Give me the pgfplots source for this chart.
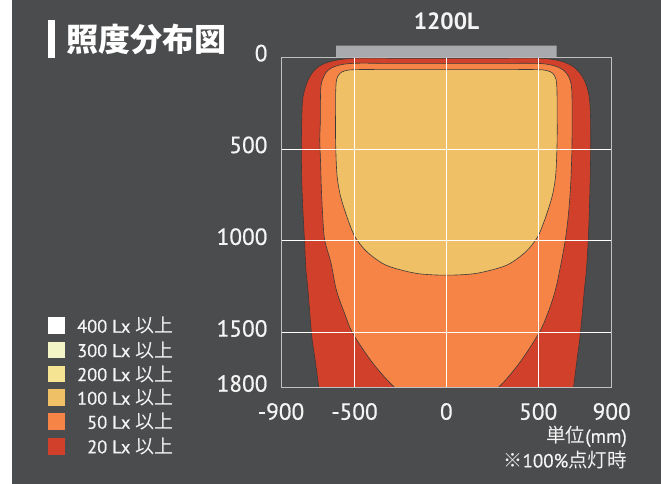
\documentclass[border=0pt]{standalone}
\usepackage{fontspec}
\setmainfont{PT Sans}
\newfontfamily\semib{PT Sans}[FakeBold=0.6]
\newfontfamily\jp{Noto Sans CJK JP}
\usepackage{pgfplots}
\pgfplotsset{compat=1.18}
\definecolor{bg}{HTML}{4B4C4E}
\definecolor{c400}{HTML}{FFFFFF}
\definecolor{c300}{HTML}{F3F5C6}
\definecolor{c200}{HTML}{F5E593}
\definecolor{c100}{HTML}{F0C066}
\definecolor{c50}{HTML}{F58446}
\definecolor{c20}{HTML}{D1402A}
\definecolor{outl}{HTML}{3A3A3A}
\definecolor{lamp}{HTML}{A9AAAD}
\definecolor{frame}{HTML}{C0C0C0}
\definecolor{txt}{HTML}{F4F4F4}
\begin{document}
\begin{tikzpicture}[x=1pt,y=1pt]
\fill[white] (0,0) rectangle (661,484);
\fill[bg] (12,0) rectangle (661,484);
% title
\fill[white] (48,426) rectangle (55,464);
\node[anchor=west,text=white,inner sep=0,font=\jp\bfseries\fontsize{32}{36}\selectfont] at (66,445) {照度分布図};
\node[text=txt,font=\bfseries\fontsize{23.5}{26}\selectfont] at (446.5,462.3) {1200L};
\node[anchor=east,text=txt,inner sep=0,font=\semib\fontsize{19}{22}\selectfont] at (627,47.3) {{\jp\fontsize{19.5}{22}\selectfont 単位}(mm)};
\node[anchor=east,text=txt,inner sep=0,font=\semib\fontsize{19}{22}\selectfont] at (627,24) {{\jp ※}100\%{\jp\fontsize{19.5}{22}\selectfont 点灯時}};
% legend
\foreach \c/\t/\y in {c400/400/158.3,c300/300/134,c200/200/110,c100/100/86.3,c50/50/62.3,c20/20/37.7}{
  \fill[\c] (48.3,\y-8.35) rectangle (65,\y+8.35);
  \node[anchor=east,text=txt,inner sep=0,font=\semib\fontsize{18.4}{21}\selectfont] at (173.5,\y) {\t\ Lx {\jp\fontsize{19}{21}\selectfont 以上}};
}
\begin{axis}[
  scale only axis, width=330.7pt, height=330.4pt,
  at={(281pt,96.3pt)}, anchor=south west,
  xmin=-900, xmax=900, ymin=0, ymax=1800, y dir=reverse,
  xtick={-900,-500,0,500,900}, ytick={0,500,1000,1500,1800},
  xticklabels={-900,-500,0,500,900}, yticklabels={0,500,1000,1500,1800},
  grid=major, major grid style={white, line width=1pt},
  axis line style={draw=frame, line width=1pt},
  major tick length=0pt, tick style={draw=none},
  axis on top,
  xticklabel style={anchor=base, yshift=-32pt, text=txt, font=\semib\fontsize{23.3}{26}\selectfont},
  yticklabel style={anchor=base east, xshift=-10pt, yshift=-4pt, text=txt, font=\semib\fontsize{23.3}{26}\selectfont},
]
% 20 Lx
\addplot[fill=c20, draw=outl, line width=0.6pt, smooth, tension=0.55] coordinates {
 (0,5) (300,5) (500,5) (580,12) (640,26) (700,58) (748,118) (775,200) (784,300) (786,450) (785,560)
 (782,700) (778,850) (772,1000) (763,1150) (751,1270) (730,1500) (711,1650) (692,1800) (672,1950)
 (0,2000)
 (-674,1950) (-694,1800) (-714,1650) (-734,1506) (-753,1270) (-765,1150) (-772,1000) (-780,850)
 (-786,700) (-789,560) (-789,450) (-786,306) (-780,215) (-753,124) (-707,60) (-634,24) (-508,5)
 (-300,5) (0,5)};
% 50 Lx
\addplot[fill=c50, draw=outl, line width=0.6pt, smooth, tension=0.55] coordinates {
 (0,33) (300,33) (493,33) (560,40) (602,51) (640,72) (666,106) (680,150) (684,215) (685,350) (684,451)
 (682,560) (675,724) (662,880) (647,997) (625,1120) (593,1270) (550,1400) (502,1506) (395,1669)
 (282,1800) (160,1890) (0,1930)
 (-160,1890) (-280,1800) (-398,1669) (-508,1506) (-552,1400) (-598,1270) (-628,1120) (-662,997)
 (-672,880) (-680,724) (-685,560) (-689,451) (-686,350) (-685,215) (-680,142) (-652,79) (-598,47)
 (-508,33) (-300,33) (0,33)};
% 100 Lx
\addplot[fill=c100, draw=outl, line width=0.6pt, smooth, tension=0.5] coordinates {
 (0,67) (300,67) (493,67) (550,73) (580,88) (597,120) (602,180) (603,300) (603,451) (596,633)
 (580,740) (559,815) (530,900) (496,980) (432,1060) (327,1133) (164,1177) (0,1187)
 (-164,1177) (-327,1133) (-432,1060) (-496,980) (-530,900) (-559,815) (-580,740) (-596,633)
 (-603,451) (-603,300) (-602,180) (-597,120) (-580,88) (-550,73) (-493,67) (-300,67) (0,67)};
\end{axis}
% overlay axis for the lamp bar
\begin{axis}[
  scale only axis, width=330.7pt, height=330.4pt,
  at={(281pt,96.3pt)}, anchor=south west,
  xmin=-900, xmax=900, ymin=0, ymax=1800, y dir=reverse,
  axis lines=none, ticks=none, clip=false,
]
\addplot[fill=lamp, draw=none] coordinates {(-600,-63) (600,-63) (600,0) (-600,0) (-600,-63)};
\end{axis}
\pgfresetboundingbox
\useasboundingbox (0,0) rectangle (661,484);
\end{tikzpicture}
\end{document}
